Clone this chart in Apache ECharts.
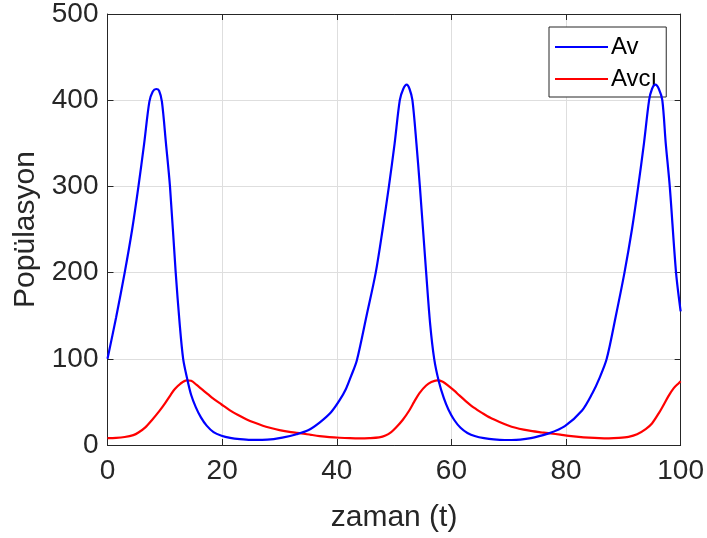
<!DOCTYPE html>
<html>
<head>
<meta charset="utf-8">
<script src="https://cdn.jsdelivr.net/npm/echarts@6/dist/echarts.min.js"></script>
<style>
html,body{margin:0;padding:0;background:#fff;}
#chart{width:707px;height:538px;}
</style>
</head>
<body>
<div id="chart"></div>
<script>
// Data
var seriesNames = ["Av", "Avcı"];
var xTicks = [0, 20, 40, 60, 80, 100];
var yTicks = [0, 100, 200, 300, 400, 500];

var tAv = [0, 1.5, 3.0, 4.3, 5.4, 6.4, 7.3, 7.9, 8.5, 9.0, 9.5, 10.2, 10.9, 11.9, 12.6, 13.2, 13.9, 14.6, 15.4, 16.3, 17.3, 18.5, 19.9, 21.4, 23.1, 25, 27, 29, 30.5, 33, 35, 37, 39, 40.5, 41.6, 42.5, 43.5, 45.2, 46.8, 48.0, 49.1, 50.1, 51.0, 51.6, 52.2, 52.7, 53.2, 53.9, 54.5, 55.6, 56.3, 57.0, 57.8, 58.7, 59.5, 60.5, 61.6, 62.8, 64.2, 65.7, 67.4, 69.3, 71.3, 73, 74.5, 77, 79.8, 82.8, 84.6, 85.8, 87.1, 88.7, 90.2, 91.5, 92.6, 93.6, 94.5, 95.0, 95.6, 96.2, 96.8, 97.4, 98.1, 99.2, 100];
var av = [100, 148, 200, 250, 300, 350, 398, 410, 413, 411, 398, 350, 300, 200, 140, 100, 77, 58, 44, 32, 22.5, 15, 10.8, 8.3, 6.8, 6.0, 6.0, 6.9, 8.5, 12.5, 17, 26, 38, 52, 65, 80, 98, 150, 200, 250, 300, 350, 400, 413, 418, 413, 400, 350, 300, 200, 140, 100, 74, 54, 41, 29, 20, 14, 10.2, 8, 6.5, 5.8, 6.0, 7.2, 8.9, 13.5, 22, 40, 60, 77, 100, 150, 200, 250, 300, 350, 400, 413, 418, 413, 400, 350, 300, 200, 155];

var tAvci = [0, 1.5, 3.0, 4.5, 5.4, 6.6, 7.7, 9, 10, 11, 11.75, 12.7, 13.8, 14.6, 15.5, 16.4, 17.5, 18.4, 19.9, 21.3, 22.7, 24.2, 25.6, 27.1, 28.5, 30, 32, 33.8, 35.5, 37, 38.7, 40.5, 42.3, 44, 45.7, 47.4, 48.5, 49.5, 50.3, 51.5, 52.65, 53.5, 54.4, 55.6, 56.5, 57.5, 58.5, 59.6, 60.5, 61.4, 62.5, 64, 65.4, 66.8, 68.3, 69.8, 71.2, 72.6, 74.1, 75.7, 77.3, 79, 80.5, 82.2, 84, 85.8, 87.5, 89.2, 90.9, 92.4, 93.9, 95, 96.2, 96.9, 97.9, 98.8, 99.7, 100];
var avci = [8, 8.3, 9.3, 11.5, 14.5, 20.5, 28.5, 39, 48, 58, 65, 71, 75, 74.5, 70, 65, 59, 54, 47, 40.5, 35, 30, 26, 22.3, 19.7, 17.3, 15, 13.5, 11.8, 10.4, 9.2, 8.4, 7.9, 7.7, 8, 8.9, 11, 15, 20, 29, 40, 50, 60, 69, 73, 75, 73.5, 68, 63, 57.5, 51, 43, 37, 31.5, 27, 23, 20, 17.8, 16, 14.7, 13.5, 12, 10.6, 9.4, 8.5, 7.9, 7.7, 8.2, 9.5, 12.5, 18.5, 25, 37, 45, 57, 66, 72, 74];

function pairs(ts, vs) {
  var out = [];
  for (var i = 0; i < ts.length; i++) out.push([ts[i], vs[i]]);
  return out;
}

var FONT = "'Liberation Sans', Arial, Helvetica, sans-serif";
var TXT = '#262626';
var chart = echarts.init(document.getElementById('chart'), null, {renderer: 'canvas'});

var axisCommon = {
  type: 'value',
  axisLine: {show: true, onZero: false, lineStyle: {color: TXT, width: 1}},
  axisTick: {show: true, inside: true, length: 6, lineStyle: {color: TXT, width: 1}}
};

chart.setOption({
  animation: false,
  backgroundColor: '#ffffff',
  textStyle: {fontFamily: FONT},
  grid: {left: 107.5, right: 25, top: 12, bottom: 93, containLabel: false},
  legend: {
    data: seriesNames,
    orient: 'vertical',
    left: 549,
    top: 27,
    padding: [5, 9, 3, 6],
    itemGap: 2,
    itemWidth: 53,
    itemHeight: 2,
    icon: 'rect',
    backgroundColor: '#ffffff',
    borderColor: TXT,
    borderWidth: 1,
    borderRadius: 0,
    z: 4,
    textStyle: {fontFamily: FONT, fontSize: 24, color: '#000', lineHeight: 30, padding: [0, 0, 0, -2]}
  },
  xAxis: [
    Object.assign({}, axisCommon, {
      min: xTicks[0], max: xTicks[xTicks.length - 1], interval: 20,
      position: 'bottom',
      name: 'zaman (t)', nameLocation: 'middle', nameGap: 58,
      nameTextStyle: {fontFamily: FONT, fontSize: 30, color: TXT},
      axisLabel: {show: true, margin: 12, fontFamily: FONT, fontSize: 28, color: TXT},
      splitLine: {show: true, lineStyle: {color: '#dedede', width: 1}}
    }),
    Object.assign({}, axisCommon, {
      min: xTicks[0], max: xTicks[xTicks.length - 1], interval: 20,
      position: 'top',
      axisLabel: {show: false},
      splitLine: {show: false}
    })
  ],
  yAxis: [
    Object.assign({}, axisCommon, {
      min: yTicks[0], max: yTicks[yTicks.length - 1], interval: 100,
      position: 'left',
      name: 'Popülasyon', nameLocation: 'middle', nameGap: 64, nameRotate: 90,
      nameTextStyle: {fontFamily: FONT, fontSize: 30, color: TXT},
      axisLabel: {show: true, margin: 9, fontFamily: FONT, fontSize: 28, color: TXT},
      splitLine: {show: true, lineStyle: {color: '#dedede', width: 1}}
    }),
    Object.assign({}, axisCommon, {
      min: yTicks[0], max: yTicks[yTicks.length - 1], interval: 100,
      position: 'right',
      axisLabel: {show: false},
      splitLine: {show: false}
    })
  ],
  series: [
    {
      name: seriesNames[0], type: 'line', xAxisIndex: 0, yAxisIndex: 0,
      data: pairs(tAv, av), showSymbol: false, smooth: 0.3,
      lineStyle: {color: '#0000ff', width: 2.2}, itemStyle: {color: '#0000ff'}, z: 5
    },
    {
      name: seriesNames[1], type: 'line', xAxisIndex: 0, yAxisIndex: 0,
      data: pairs(tAvci, avci), showSymbol: false, smooth: 0.3,
      lineStyle: {color: '#ff0000', width: 2.2}, itemStyle: {color: '#ff0000'}, z: 2
    }
  ]
});
</script>
</body>
</html>
